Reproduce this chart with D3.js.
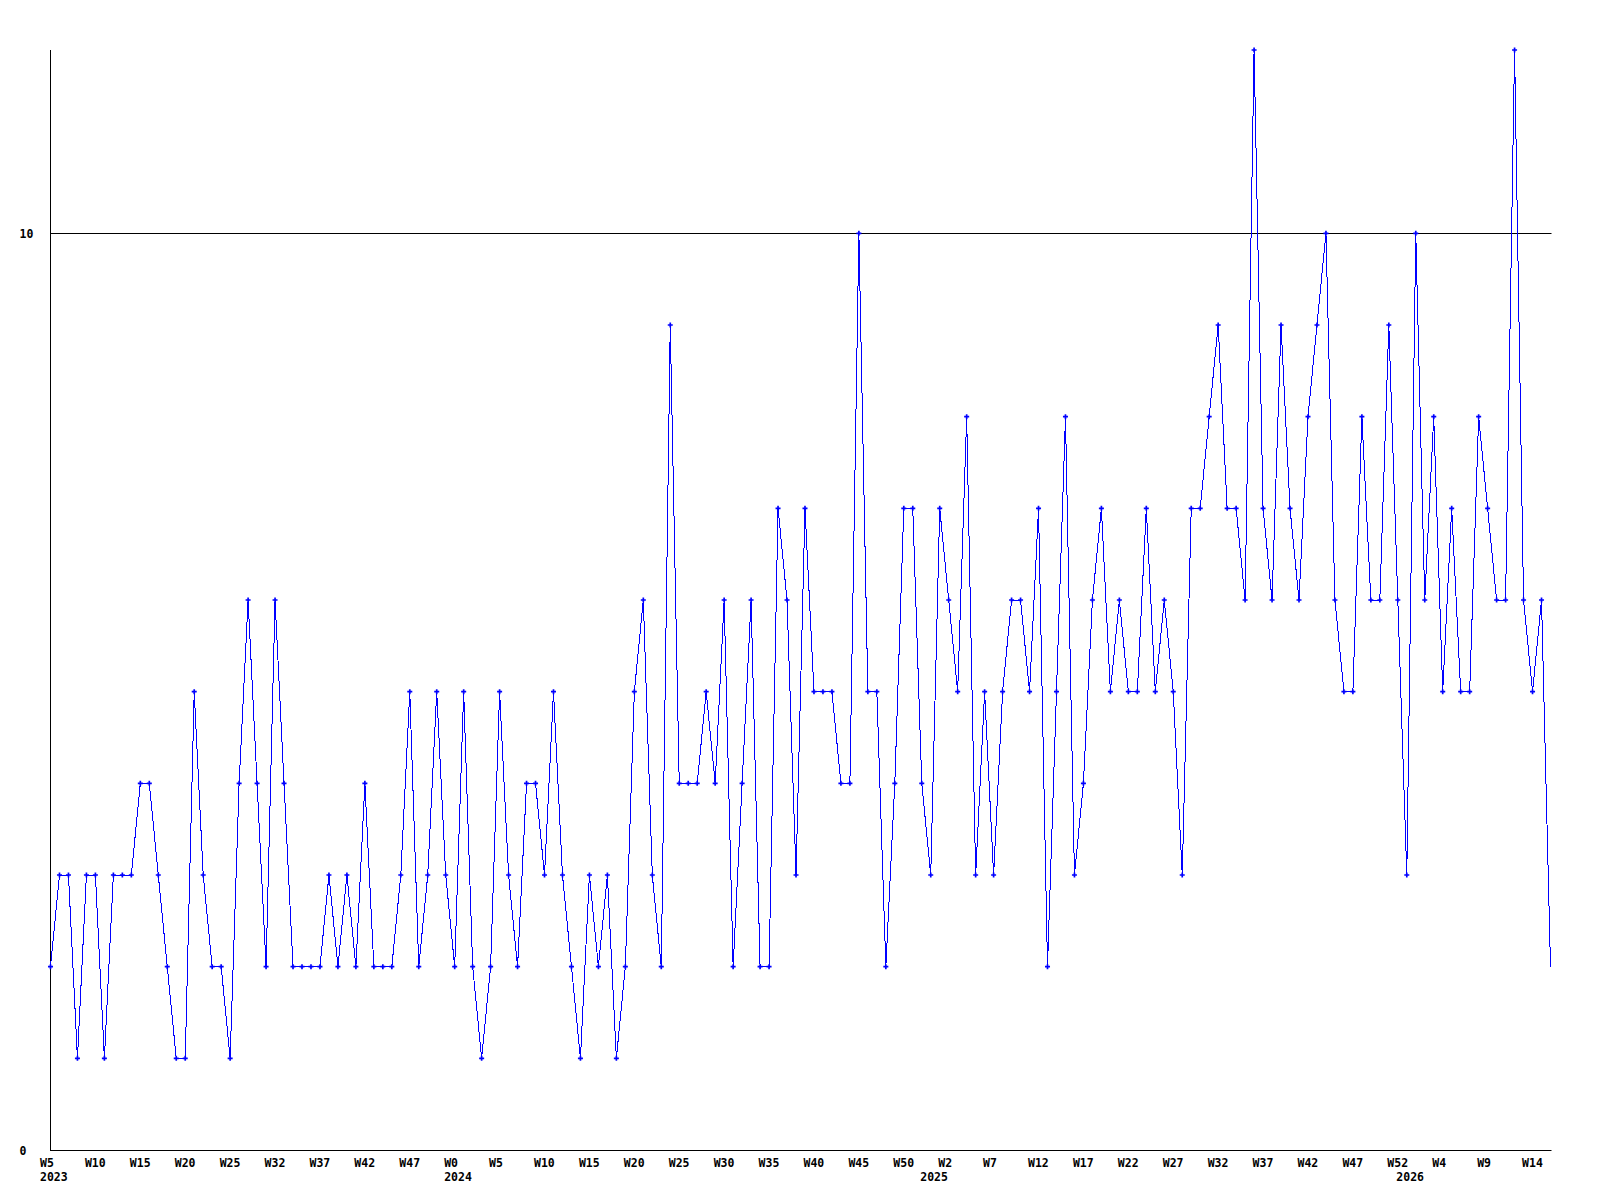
<!DOCTYPE html>
<html>
<head>
<meta charset="utf-8">
<script src="https://cdn.jsdelivr.net/npm/d3@7"></script>
<style>
  html, body { margin: 0; padding: 0; background: #fff; }
  svg { display: block; }
  text { font-family: "DejaVu Sans Mono", monospace; font-weight: bold; font-size: 11.5px; fill: #000; }
</style>
</head>
<body>
<svg id="chart" width="1600" height="1200"></svg>
<script>
// Weekly values, W5 2023 .. W14 2026 (+ current partial week)
const values = [
  2,3,3,1,3,3,1,3,3,3,4,4,3,2,1,1,5,3,2,2,1,4,6,4,2,6,4,2,
  2,2,2,3,2,3,2,4,2,2,2,3,5,2,3,5,3,2,5,2,1,2,5,3,2,4,4,3,
  5,3,2,1,3,2,3,1,2,5,6,3,2,9,4,4,4,5,4,6,2,4,6,2,2,7,6,3,
  7,5,5,5,4,4,10,5,5,2,4,7,7,4,3,7,6,5,8,3,5,3,5,6,6,5,7,2,
  5,8,3,4,6,7,5,6,5,5,7,5,6,5,3,7,7,8,9,7,7,6,12,7,6,9,7,6,
  8,9,10,6,5,5,8,6,6,9,6,3,10,6,8,5,7,5,5,8,7,6,6,12,6,5,6,2
];
// Week tick labels, one every 5 points
const weekLabels = ["W5","W10","W15","W20","W25","W32","W37","W42","W47",
  "W0","W5","W10","W15","W20","W25","W30","W35","W40","W45","W50",
  "W2","W7","W12","W17","W22","W27","W32","W37","W42","W47","W52",
  "W4","W9","W14"];
const weekTickIdx = weekLabels.map((_, k) => k * 5);
// Year labels and the week index where each year begins
const yearLabels = ["2023","2024","2025","2026"];
const yearIdx = [0, 45, 98, 151];
const yTicks = [0, 10];

const svg = d3.select("#chart");
const mLeft = 50, mRight = 1551, mTop = 50, mBottom = 1150;

const x = d3.scaleLinear().domain([0, values.length - 1]).range([50.5, 1550.5]);
const y = d3.scaleLinear().domain([0, 12]).range([mBottom, mTop]);
const snap = v => Math.round(v) + 0.5;

// Y axis with horizontal grid lines at ticks
const yAxis = d3.axisLeft(y).tickValues(yTicks).tickFormat(d3.format("d"))
  .tickSizeInner(-(mRight - mLeft)).tickSizeOuter(0).tickPadding(0);
const gy = svg.append("g").attr("transform", `translate(${mLeft + 0.5},0)`).call(yAxis);
gy.select(".domain").remove();
gy.selectAll(".tick").attr("transform", d => `translate(0,${snap(y(d))})`);
gy.selectAll(".tick line").attr("stroke", "#000");
gy.selectAll(".tick text").attr("text-anchor", "start").attr("x", -31).attr("dy", null).attr("y", 4);

// Axis lines
svg.append("line").attr("x1", mLeft + 0.5).attr("x2", mLeft + 0.5).attr("y1", mTop).attr("y2", mBottom + 1)
  .attr("stroke", "#000");
svg.append("line").attr("x1", mLeft).attr("x2", mRight).attr("y1", mBottom + 0.5).attr("y2", mBottom + 0.5)
  .attr("stroke", "#000");

// X axis: week labels
const xAxis = d3.axisBottom(x).tickValues(weekTickIdx).tickFormat((d, k) => weekLabels[k])
  .tickSize(0).tickPadding(0);
const gx = svg.append("g").attr("transform", `translate(0,${mBottom})`).call(xAxis);
gx.select(".domain").remove();
gx.selectAll(".tick text").attr("text-anchor", "start").attr("x", -11).attr("dy", null).attr("y", 17);

// X axis: year labels
const yearAxis = d3.axisBottom(x).tickValues(yearIdx).tickFormat((d, k) => yearLabels[k])
  .tickSize(0).tickPadding(0);
const gyr = svg.append("g").attr("transform", `translate(0,${mBottom})`).call(yearAxis);
gyr.select(".domain").remove();
gyr.selectAll(".tick text").attr("text-anchor", "start").attr("x", -11).attr("dy", null).attr("y", 31);

svg.selectAll(".tick text").style("font-family", "'DejaVu Sans Mono', monospace")
  .style("font-weight", "bold").style("font-size", "11.5px").attr("fill", "#000");

// Data line
const line = d3.line().x((d, i) => x(i)).y(d => y(d));
svg.append("path").datum(values).attr("d", line)
  .attr("fill", "none").attr("stroke", "#0000ff").attr("stroke-width", 1)
  .attr("shape-rendering", "crispEdges");

// Markers (all complete weeks)
const sym = d3.symbol().type(d3.symbolCross).size(14);
svg.append("g").selectAll("path").data(values.slice(0, values.length - 1)).join("path")
  .attr("transform", (d, i) => `translate(${x(i)},${y(d)})`)
  .attr("d", sym).attr("fill", "#0000ff");
</script>
</body>
</html>
